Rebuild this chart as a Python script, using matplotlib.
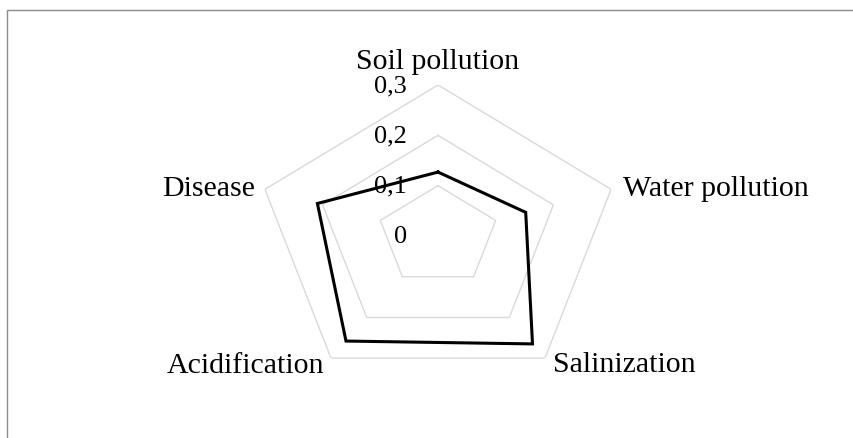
import numpy as np
import matplotlib
matplotlib.use("Agg")
import matplotlib.pyplot as plt
from matplotlib.patches import Rectangle

categories = ['Soil pollution', 'Water pollution', 'Salinization', 'Acidification', 'Disease']
values = [0.127, 0.152, 0.265, 0.258, 0.209]
grid_levels = [0.1, 0.2, 0.3]
tick_values = [0, 0.1, 0.2, 0.3]
tick_labels = ['0', '0,1', '0,2', '0,3']

plt.rcParams['font.family'] = ['Liberation Serif', 'DejaVu Serif']

fig = plt.figure(figsize=(8.54, 4.39), dpi=100)
fig.patch.set_facecolor('white')

# chart-area border (cropped at right and bottom)
fig.add_artist(Rectangle((7 / 854, -0.2), 2.0, (1 - 11 / 439) + 0.2,
                         transform=fig.transFigure, fill=False,
                         edgecolor='#8a8a8a', lw=1.0))

ax = fig.add_axes([256 / 854, 51 / 439, 364 / 854, 302 / 439], projection='polar')
ax.set_theta_zero_location('N')
ax.set_theta_direction(-1)
ax.set_ylim(0, 0.3)
ax.set_aspect('auto')
ax.grid(False)
ax.spines['polar'].set_visible(False)
ax.set_xticks([])
ax.set_yticks([])
ax.patch.set_alpha(0)

n = len(categories)
angles = np.linspace(0, 2 * np.pi, n, endpoint=False)
closed = np.concatenate([angles, angles[:1]])

for lv in grid_levels:
    ax.plot(closed, [lv] * (n + 1), color='#d9d9d9', lw=1.0, zorder=1)

vals = np.concatenate([values, values[:1]])
ax.plot(closed, vals, color='black', lw=2.2, zorder=5, solid_joinstyle='miter')

# radial tick labels
for v, lab in zip(tick_values, tick_labels):
    ax.annotate(lab, xy=(0, v), xytext=(-31, 0), textcoords='offset pixels',
                ha='right', va='center', fontsize=19, color='black', zorder=3)

# category labels
offsets = [(0, 24, 'center', 'center'),
           (12, 1, 'left', 'center'),
           (8, -6, 'left', 'center'),
           (-7, -7, 'right', 'center'),
           (-10, 1, 'right', 'center')]
rmax = grid_levels[-1]
for ang, cat, (dx, dy, ha, va) in zip(angles, categories, offsets):
    ax.annotate(cat, xy=(ang, rmax), xytext=(dx, dy), textcoords='offset pixels',
                ha=ha, va=va, fontsize=21.5, color='black', zorder=3,
                annotation_clip=False)

fig.savefig('out.png', dpi=100, facecolor='white')
